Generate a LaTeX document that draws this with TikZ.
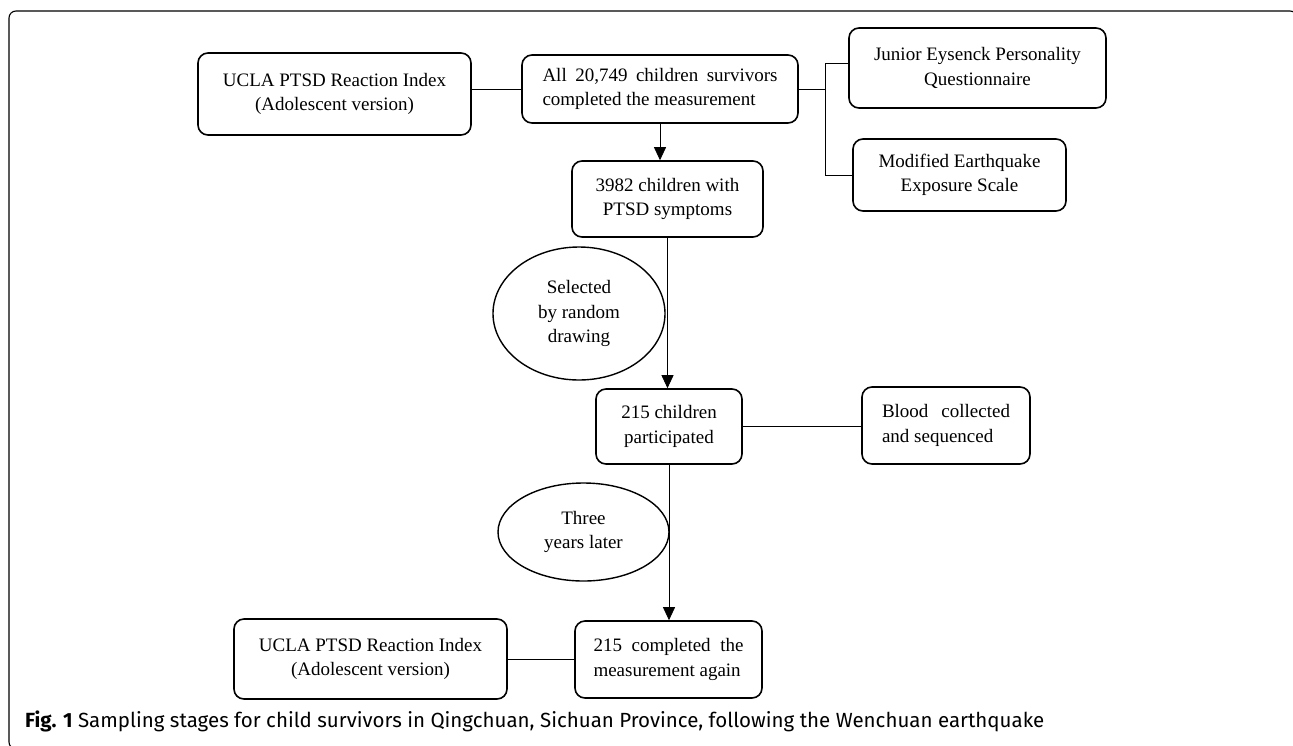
\documentclass[tikz,border=0pt]{standalone}
\usepackage{fontspec}
\setmainfont{Liberation Serif}
\newfontfamily\capfont{Fira Sans}
\usetikzlibrary{arrows.meta,shapes.geometric}
\begin{document}
\begin{tikzpicture}[x=1pt,y=-1pt,
  box/.style={draw, line width=1.6pt, rounded corners=10pt, align=center,
    font=\fontsize{19}{24.5}\selectfont, inner sep=0pt},
  oval/.style={draw, ellipse, line width=1.4pt, align=center,
    font=\fontsize{19}{24.5}\selectfont, inner sep=0pt},
  conn/.style={line width=0.8pt},
  arr/.style={line width=0.8pt, -{Triangle[width=12pt,length=13pt]}}
]
\useasboundingbox (0,0) rectangle (1293,745);
\draw[line width=1.1pt, rounded corners=7pt] (9,11) rectangle (1297,749);

\node[box, minimum width=273pt, minimum height=82pt] (ucla1) at (334.5,94)
  {UCLA PTSD Reaction Index\\(Adolescent version)};
\node[box, minimum width=276pt, minimum height=68pt] (all) at (660,89)
  {\parbox{235pt}{All 20,749 children survivors\linebreak completed the measurement}};
\node[box, minimum width=191pt, minimum height=76pt] (p3982) at (667.5,199)
  {3982 children with\\PTSD symptoms};
\node[box, minimum width=257pt, minimum height=80pt] (junior) at (977.5,68)
  {Junior Eysenck Personality\\Questionnaire};
\node[box, minimum width=213pt, minimum height=72pt] (mod) at (959.5,175)
  {Modified Earthquake\\Exposure Scale};
\node[oval, minimum width=172pt, minimum height=133pt] (sel) at (579,313.5)
  {Selected\\by random\\drawing};
\node[box, minimum width=146pt, minimum height=75pt] (c215) at (669,426.5)
  {215 children\\participated};
\node[box, minimum width=168pt, minimum height=77pt] (blood) at (946,425.5)
  {\parbox{128pt}{Blood collected\linebreak and sequenced}};
\node[oval, minimum width=171pt, minimum height=98pt] (three) at (583.5,532)
  {Three\\years later};
\node[box, minimum width=273pt, minimum height=80pt] (ucla2) at (370.5,659)
  {UCLA PTSD Reaction Index\\(Adolescent version)};
\node[box, minimum width=187pt, minimum height=77pt] (comp) at (668.5,659.5)
  {\parbox{150pt}{215 completed the\linebreak measurement again}};

\coordinate (bm) at (825,89);
\coordinate (bt) at (825,63);
\coordinate (bb) at (825,175);

\draw[conn] (ucla1.east |- all.west) -- (all.west);
\draw[conn] (all.east) -- (bm);
\draw[conn] (bt) -- (bb);
\draw[conn] (bt) -- (bt -| junior.west);
\draw[conn] (bb) -- (bb -| mod.west);
\draw[arr] (all.south) -- (all.south |- p3982.north);
\draw[arr] (p3982.south) -- (p3982.south |- c215.north);
\draw[conn] (c215.east) -- (c215.east -| blood.west);
\draw[arr] (c215.south) -- (c215.south |- comp.north);
\draw[conn] (ucla2.east) -- (ucla2.east -| comp.west);

\node[anchor=base west, inner sep=0pt, font=\capfont\fontsize{20.5}{22}\selectfont] (cap) at (25,727)
  {\textbf{Fig. 1} Sampling stages for child survivors in Qingchuan, Sichuan Province, following the Wenchuan earthquake};
\end{tikzpicture}
\end{document}
